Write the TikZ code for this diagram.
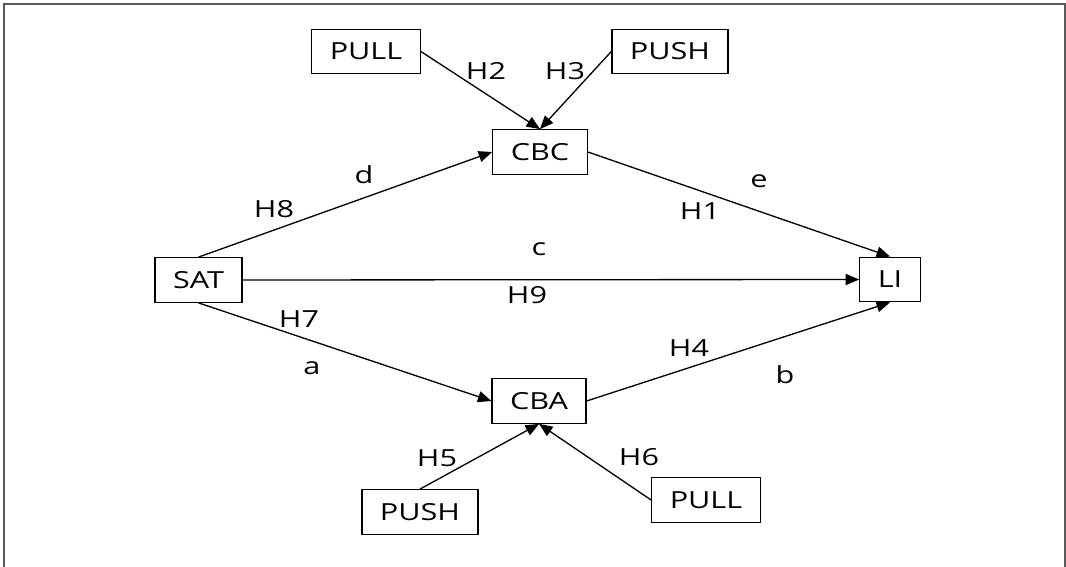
\documentclass[tikz,border=0pt]{standalone}
\usepackage{fontspec}
\setmainfont[FakeStretch=1.3]{Open Sans}
\usepackage{tikz}
\usetikzlibrary{arrows}
\tikzstyle{block}=[rectangle,draw=black,inner xsep=0.36cm,inner ysep=0pt,minimum height=0.89cm,font=\fontsize{13.4}{16}\selectfont]
\tikzstyle{lbl}=[inner sep=0pt,font=\fontsize{13.4}{16}\selectfont]
\tikzstyle{arrow}=[->,>=triangle 45]
\tikzset{every picture/.style={
    line width=0.75pt
  }
}

\begin{document}
\begin{tikzpicture}[x=0.02cm,y=-0.02cm]
      \useasboundingbox (0,0) rectangle (1066,567);
      \draw[black!65,line width=0.8pt] (4,567)--(4,4)--(1065,4)--(1065,567);
      \node[block] at (366,51.5) (pulltop) {PULL};
      \node[block] at (670,51.5) (pushtop) {PUSH};
      \node[block] at (540,152) (cbc) {CBC};
      \node[block] at (198.5,280) (sat) {SAT};
      \node[block] at (890,279.5) (li) {LI};
      \node[block] at (539,401) (cba) {CBA};
      \node[block] at (420,512) (pushbot) {PUSH};
      \node[block] at (706,500) (pullbot) {PULL};
      \draw[arrow] (pulltop.east)--(cbc.north);
      \draw[arrow] (pushtop.west)--(cbc.north);
      \draw[arrow] (sat.north)--(cbc.west);
      \draw[arrow] (cbc.east)--(li.north);
      \draw[arrow] (sat.east)--(li.west);
      \draw[arrow] (sat.south)--(cba.west);
      \draw[arrow] (cba.east)--(li.south);
      \draw[arrow] (pushbot.north)--(cba.south);
      \draw[arrow] (pullbot.west)--(cba.south);
      \node[lbl] at (486,71) (h2) {H2};
      \node[lbl] at (565,71) (h3) {H3};
      \node[lbl] at (364,175) (d) {d};
      \node[lbl] at (274,209) (h8) {H8};
      \node[lbl] at (759,181) (e) {e};
      \node[lbl] at (700,211) (h1) {H1};
      \node[lbl] at (539,249) (c) {c};
      \node[lbl] at (527,295) (h9) {H9};
      \node[lbl] at (299,319) (h7) {H7};
      \node[lbl] at (312,368) (a) {a};
      \node[lbl] at (689,348) (h4) {H4};
      \node[lbl] at (785,375) (b) {b};
      \node[lbl] at (437,458) (h5) {H5};
      \node[lbl] at (639,457) (h6) {H6};
\end{tikzpicture}
\end{document}
